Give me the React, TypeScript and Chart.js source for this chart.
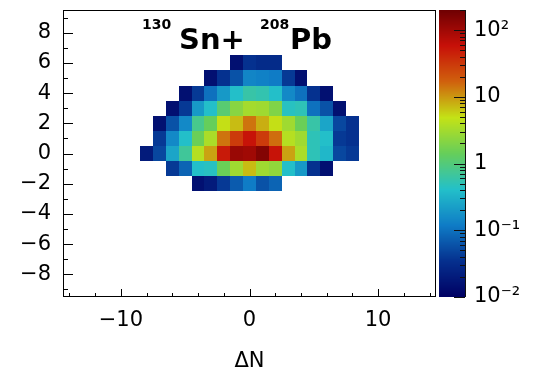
import React, { useEffect, useRef } from "react";
import { Chart, registerables } from "chart.js";

Chart.register(...registerables);

// ---- data (ΔZ rows, first ΔN of each row, yields per cell) ----
const rowDZ = [6, 5, 4, 3, 2, 1, 0, -1, -2];
const rowStartDN = [-1, -3, -5, -6, -7, -7, -8, -6, -4];
const yieldDZp6 = [0.015, 0.035, 0.03, 0.03];
const yieldDZp5 = [0.015, 0.035, 0.06, 0.14, 0.13, 0.12, 0.04, 0.015];
const yieldDZp4 = [0.015, 0.04, 0.1, 0.2, 0.4, 0.6, 0.55, 0.4, 0.15, 0.1, 0.035, 0.015];
const yieldDZp3 = [0.015, 0.04, 0.2, 0.4, 1.1, 2.2, 3.2, 3.0, 2.0, 0.45, 0.5, 0.1, 0.06, 0.015];
const yieldDZp2 = [0.015, 0.06, 0.15, 0.8, 1.4, 5, 7, 14, 8, 5, 3, 1.5, 0.6, 0.25, 0.05, 0.035];
const yieldDZp1 = [0.04, 0.15, 0.4, 1.5, 3.5, 14, 30, 55, 30, 15, 4, 3, 0.5, 0.4, 0.04, 0.035];
const yieldDZ0 = [0.02, 0.05, 0.25, 0.7, 4, 9, 50, 110, 100, 150, 55, 9, 3.5, 0.5, 0.35, 0.05, 0.04];
const yieldDZm1 = [0.04, 0.08, 0.4, 0.45, 1.5, 3, 7, 3, 2.5, 0.4, 0.2, 0.035, 0.015];
const yieldDZm2 = [0.015, 0.02, 0.04, 0.07, 0.12, 0.06, 0.08];
const rowYields = [yieldDZp6, yieldDZp5, yieldDZp4, yieldDZp3, yieldDZp2, yieldDZp1, yieldDZ0, yieldDZm1, yieldDZm2];

const xMajorTicks = [-10, 0, 10];
const yMajorTicks = [-8, -6, -4, -2, 0, 2, 4, 6, 8];
const zTicks = [0.01, 0.1, 1, 10, 100];
const zTickLabels = ["10\u207B\u00B2", "10\u207B\u00B9", "1", "10", "10\u00B2"];

const X_MIN = -14.5, X_MAX = 14.5;
const Y_MIN = -9.5, Y_MAX = 9.5;
const Z_MIN = 0.01, Z_MAX = 200;

// ROOT kRainBow palette
const pStops = [0, 0.125, 0.25, 0.375, 0.5, 0.625, 0.75, 0.875, 1];
const pRed = [0, 5, 15, 35, 102, 196, 208, 199, 110];
const pGreen = [0, 48, 124, 192, 206, 226, 97, 16, 0];
const pBlue = [99, 142, 198, 201, 90, 22, 13, 8, 2];

function palette(f: number): string {
  const t = Math.max(0, Math.min(1, f));
  let i = 0;
  while (i < pStops.length - 2 && t > pStops[i + 1]) i++;
  const u = (t - pStops[i]) / (pStops[i + 1] - pStops[i]);
  const r = Math.round(pRed[i] + (pRed[i + 1] - pRed[i]) * u);
  const g = Math.round(pGreen[i] + (pGreen[i + 1] - pGreen[i]) * u);
  const b = Math.round(pBlue[i] + (pBlue[i + 1] - pBlue[i]) * u);
  return `rgb(${r},${g},${b})`;
}

const FONT = "'DejaVu Sans', 'Liberation Sans', sans-serif";
const fmt = (v: number) => (v < 0 ? "\u2212" + Math.abs(v) : String(v));

function buildCells() {
  const cells: { x: number; y: number; v: number }[] = [];
  rowDZ.forEach((dz, r) => {
    rowYields[r].forEach((v, i) => {
      cells.push({ x: rowStartDN[r] + i, y: dz, v });
    });
  });
  return cells;
}

const heatmapPlugin = {
  id: "heatmap",
  beforeDatasetsDraw(chart: any) {
    const { ctx } = chart;
    const xs = chart.scales.x, ys = chart.scales.y, zs = chart.scales.z;
    const data = chart.data.datasets[0].data as { x: number; y: number; v: number }[];
    ctx.save();
    data.forEach((c) => {
      const x0 = Math.round(xs.getPixelForValue(c.x - 0.5));
      const x1 = Math.round(xs.getPixelForValue(c.x + 0.5));
      const y0 = Math.round(ys.getPixelForValue(c.y + 0.5));
      const y1 = Math.round(ys.getPixelForValue(c.y - 0.5));
      const f = (zs.bottom - zs.getPixelForValue(c.v)) / (zs.bottom - zs.top);
      ctx.fillStyle = palette(f);
      ctx.fillRect(x0, y0, x1 - x0, y1 - y0);
    });
    ctx.restore();
  },
  afterDraw(chart: any) {
    const { ctx, chartArea: a } = chart;
    const xs = chart.scales.x, ys = chart.scales.y, zs = chart.scales.z;
    ctx.save();
    // frame
    ctx.strokeStyle = "#000";
    ctx.lineWidth = 1;
    ctx.strokeRect(Math.round(a.left) + 0.5, Math.round(a.top) + 0.5, Math.round(a.right - a.left) - 1, Math.round(a.bottom - a.top) - 1);
    // x ticks (inside)
    ctx.beginPath();
    for (let v = -14; v <= 14; v += 2) {
      const px = Math.round(xs.getPixelForValue(v)) + 0.5;
      const len = v % 10 === 0 ? 8 : 4;
      ctx.moveTo(px, a.bottom);
      ctx.lineTo(px, a.bottom - len);
    }
    // y ticks (inside)
    for (let v = -9; v <= 9; v += 1) {
      const py = Math.round(ys.getPixelForValue(v)) + 0.5;
      const len = v % 2 === 0 ? 10 : 5;
      ctx.moveTo(a.left, py);
      ctx.lineTo(a.left + len, py);
    }
    ctx.stroke();

    // colour bar
    const bx0 = Math.round(a.right) + 3;
    const bx1 = Math.round(a.right) + 29;
    const top = Math.round(zs.top), bot = Math.round(zs.bottom);
    for (let py = top; py < bot; py++) {
      const f = (zs.bottom - (py + 0.5)) / (zs.bottom - zs.top);
      ctx.fillStyle = palette(f);
      ctx.fillRect(bx0, py, bx1 - bx0, 1);
    }
    ctx.beginPath();
    ctx.moveTo(bx1 + 0.5, top);
    ctx.lineTo(bx1 + 0.5, bot);
    for (let e = -2; e <= 2; e++) {
      for (let m = 1; m <= 9; m++) {
        const val = m * Math.pow(10, e);
        if (val < Z_MIN || val > Z_MAX) continue;
        const py = Math.round(zs.getPixelForValue(val)) + 0.5;
        const len = m === 1 ? 11 : 5;
        ctx.moveTo(bx1, py);
        ctx.lineTo(bx1 - len, py);
      }
    }
    ctx.strokeStyle = "#111";
    ctx.stroke();

    // title with superscripts
    ctx.fillStyle = "#000";
    ctx.textBaseline = "alphabetic";
    ctx.textAlign = "left";
    ctx.font = `bold 14px ${FONT}`;
    ctx.fillText("130", 142, 29);
    ctx.font = `bold 29px ${FONT}`;
    ctx.fillText("Sn+", 179, 49);
    ctx.font = `bold 14px ${FONT}`;
    ctx.fillText("208", 260, 29);
    ctx.font = `bold 29px ${FONT}`;
    ctx.fillText("Pb", 290, 49);
    ctx.restore();
  },
};

const noPadV = (s: any) => {
  s.paddingTop = 0;
  s.paddingBottom = 0;
};

export default function App() {
  const ref = useRef<HTMLCanvasElement | null>(null);
  useEffect(() => {
    if (!ref.current) return;
    const chart = new Chart(ref.current, {
      type: "scatter",
      data: {
        datasets: [
          {
            data: buildCells() as any,
            pointRadius: 0,
            pointHoverRadius: 0,
            showLine: false,
          },
        ],
      },
      options: {
        responsive: false,
        animation: false,
        devicePixelRatio: 1,
        layout: { padding: { left: 0, right: 0, top: 10, bottom: 0 } },
        plugins: { legend: { display: false }, tooltip: { enabled: false }, title: { display: false } },
        events: [],
        scales: {
          x: {
            type: "linear",
            position: "bottom",
            min: X_MIN,
            max: X_MAX,
            grid: { display: false, drawTicks: false },
            border: { display: false },
            afterBuildTicks: (s: any) => {
              s.ticks = xMajorTicks.map((v) => ({ value: v }));
            },
            afterFit: (s: any) => {
              s.height = 78;
              s.paddingLeft = 0;
              s.paddingRight = 0;
            },
            ticks: {
              callback: (v: any) => fmt(Number(v)),
              font: { family: FONT, size: 21 },
              color: "#000",
              padding: 11,
              maxRotation: 0,
              autoSkip: false,
            },
            title: {
              display: true,
              text: "\u0394N",
              font: { family: FONT, size: 21 },
              color: "#000",
              padding: { top: 0, bottom: 1 },
            },
          },
          y: {
            type: "linear",
            position: "left",
            min: Y_MIN,
            max: Y_MAX,
            grid: { display: false, drawTicks: false },
            border: { display: false },
            afterBuildTicks: (s: any) => {
              s.ticks = yMajorTicks.map((v) => ({ value: v }));
            },
            afterFit: (s: any) => {
              s.width = 63;
              noPadV(s);
            },
            ticks: {
              callback: (v: any) => fmt(Number(v)),
              font: { family: FONT, size: 21 },
              color: "#000",
              padding: 12,
              autoSkip: false,
            },
          },
          z: {
            type: "logarithmic",
            position: "right",
            min: Z_MIN,
            max: Z_MAX,
            grid: { display: false, drawTicks: false },
            border: { display: false },
            afterBuildTicks: (s: any) => {
              s.ticks = zTicks.map((v) => ({ value: v }));
            },
            afterFit: (s: any) => {
              s.width = 102;
              noPadV(s);
            },
            ticks: {
              callback: (v: any) => {
                const i = zTicks.findIndex((t) => Math.abs(Math.log10(t) - Math.log10(Number(v))) < 1e-6);
                return i >= 0 ? zTickLabels[i] : "";
              },
              font: { family: FONT, size: 21 },
              color: "#000",
              padding: 38,
              autoSkip: false,
            },
          },
        },
      },
      plugins: [heatmapPlugin],
    });
    return () => chart.destroy();
  }, []);
  return (
    <div style={{ position: "absolute", left: 0, top: 0, width: 538, height: 375 }}>
      <canvas ref={ref} width={538} height={375} style={{ display: "block" }} />
    </div>
  );
}
